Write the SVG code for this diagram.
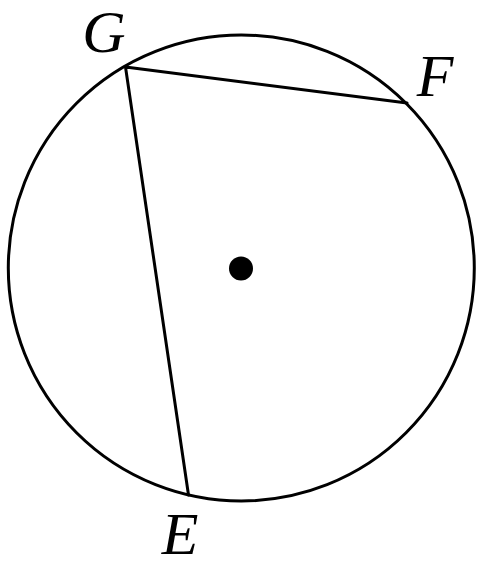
<svg xmlns="http://www.w3.org/2000/svg" width="487" height="566" viewBox="0 0 487 566">
<style>
.ln{fill:none;stroke:#000;stroke-width:3;stroke-linecap:round;stroke-linejoin:round}
.lb{font-family:"Liberation Serif","Times New Roman",serif;font-style:italic;font-size:60px;fill:#000;text-anchor:middle}
</style>
<rect width="487" height="566" fill="#fff"/>
<g id="circle"><circle class="ln" cx="241.3" cy="268" r="233"/></g>
<g id="center"><circle cx="241" cy="268.5" r="12" fill="#000"/></g>
<g id="connectors">
<polyline class="ln" points="407,103 125.5,67 188.5,495"/>
</g>
<g id="G"><text class="lb" x="104" y="52">G</text></g>
<g id="F"><text class="lb" x="435" y="96">F</text></g>
<g id="E"><text class="lb" x="180" y="554">E</text></g>
</svg>
